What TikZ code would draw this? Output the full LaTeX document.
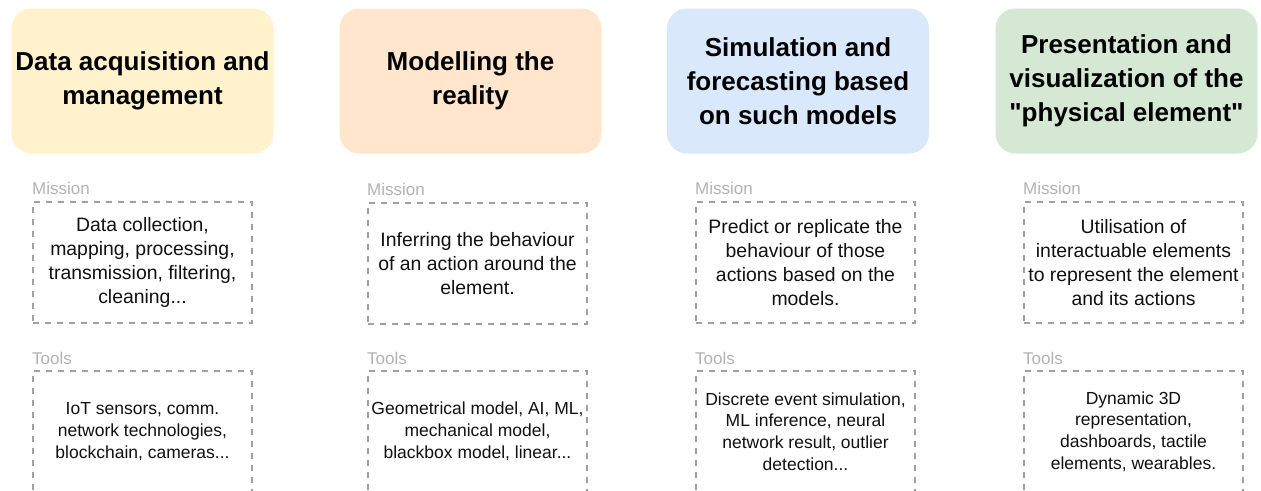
\documentclass[tikz,border=0pt]{standalone}
\usepackage{fontspec}
\setmainfont{Liberation Sans}[Ligatures=TeXOff]
\definecolor{hyel}{HTML}{FFF2CC}
\definecolor{hora}{HTML}{FFE6CC}
\definecolor{hblu}{HTML}{DAE8FC}
\definecolor{hgrn}{HTML}{D5E8D4}
\definecolor{dashgray}{HTML}{A0A0A0}
\definecolor{lblgray}{HTML}{B3B3B3}
\definecolor{txt}{HTML}{111111}
\tikzset{
  header/.style={rounded corners=20pt, minimum width=262pt, minimum height=145pt,
    inner sep=0pt, align=center, font=\bfseries\fontsize{26}{34}\selectfont, text=black},
  mission/.style={draw=dashgray, line width=2pt, dash pattern=on 6pt off 6pt,
    minimum width=219pt, minimum height=121pt, inner sep=0pt, align=center,
    font=\fontsize{19.4}{24}\selectfont, text=txt},
  tools/.style={mission, font=\fontsize{17.5}{21.8}\selectfont},
  lbl/.style={anchor=base west, inner sep=0pt, text=lblgray, font=\fontsize{17}{20}\selectfont}
}
\begin{document}
\begin{tikzpicture}[x=1pt,y=-1pt]
\useasboundingbox (0,0) rectangle (1261,490);
\clip (0,0) rectangle (1261,490);
\fill[white] (0,0) rectangle (1261,490);
% headers
\node[header, fill=hyel] (h1) at (142.5,81) {Data acquisition and\\management};
\node[header, fill=hora] (h2) at (470.5,81) {Modelling the\\reality};
\node[header, fill=hblu] (h3) at (798,81) {Simulation and\\forecasting based\\on such models};
\node[header, fill=hgrn] (h4) at (1126.5,81) {Presentation and\\visualization of the\\"physical element"};
% mission boxes
\node[mission] (m1) at (142.5,262.5) {Data collection,\\mapping, processing,\\transmission, filtering,\\cleaning...};
\node[mission] (m2) at (477.5,263.5) {Inferring the behaviour\\of an action around the\\element.};
\node[mission] (m3) at (805.5,262.5) {Predict or replicate the\\behaviour of those\\actions based on the\\models.};
\node[mission] (m4) at (1133.5,262.5) {Utilisation of\\interactuable elements\\to represent the element\\and its actions};
% tools boxes
\node[tools] (t1) at (142.5,431.5) {IoT sensors, comm.\\network technologies,\\blockchain, cameras...};
\node[tools] (t2) at (477.5,431.5) {Geometrical model, AI, ML,\\mechanical model,\\blackbox model, linear...};
\node[tools] (t3) at (805.5,431.5) {Discrete event simulation,\\ML inference, neural\\network result, outlier\\detection...};
\node[tools] (t4) at (1133.5,431.5) {Dynamic 3D\\representation,\\dashboards, tactile\\elements, wearables.};
% labels
\foreach \i in {1,2,3,4}{
  \node[lbl] (ml\i) at ([yshift=7pt]m\i.north west) {Mission};
  \node[lbl] (tl\i) at ([yshift=6pt]t\i.north west) {Tools};
}
\end{tikzpicture}
\end{document}
